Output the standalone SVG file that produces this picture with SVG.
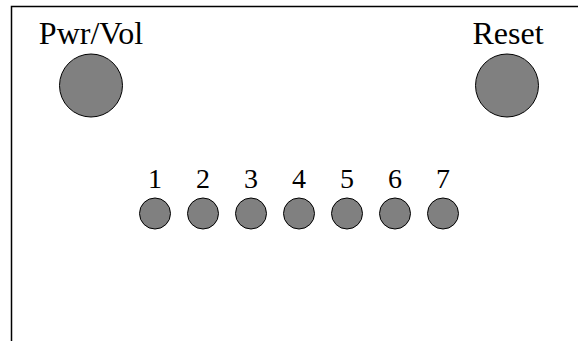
<svg xmlns="http://www.w3.org/2000/svg" width="578" height="341" viewBox="0 0 578 341">
<style>
.btn{fill:#808080;stroke:#000;stroke-width:1}
.lbl{font-family:"Liberation Serif",serif;fill:#000;text-anchor:middle}
.big{font-size:32px}
.num{font-size:28px}
.frame{fill:none;stroke:#000;stroke-width:1.5}
</style>
<rect width="578" height="341" fill="#fff"/>
<g id="frame"><path class="frame" d="M11.5,341 V6.5 H578"/></g>
<g id="pwrvol"><text class="lbl big" x="91" y="44">Pwr/Vol</text><circle class="btn" cx="91" cy="85.5" r="31.5"/></g>
<g id="reset"><text class="lbl big" x="508" y="44">Reset</text><circle class="btn" cx="507" cy="85.5" r="31.5"/></g>
<g id="b1"><text class="lbl num" x="155" y="188">1</text><circle class="btn" cx="155" cy="213.5" r="15.5"/></g>
<g id="b2"><text class="lbl num" x="203" y="188">2</text><circle class="btn" cx="203" cy="213.5" r="15.5"/></g>
<g id="b3"><text class="lbl num" x="251" y="188">3</text><circle class="btn" cx="251" cy="213.5" r="15.5"/></g>
<g id="b4"><text class="lbl num" x="299" y="188">4</text><circle class="btn" cx="299" cy="213.5" r="15.5"/></g>
<g id="b5"><text class="lbl num" x="347" y="188">5</text><circle class="btn" cx="347" cy="213.5" r="15.5"/></g>
<g id="b6"><text class="lbl num" x="395" y="188">6</text><circle class="btn" cx="395" cy="213.5" r="15.5"/></g>
<g id="b7"><text class="lbl num" x="443" y="188">7</text><circle class="btn" cx="443" cy="213.5" r="15.5"/></g>
<g id="connectors"/>
</svg>
